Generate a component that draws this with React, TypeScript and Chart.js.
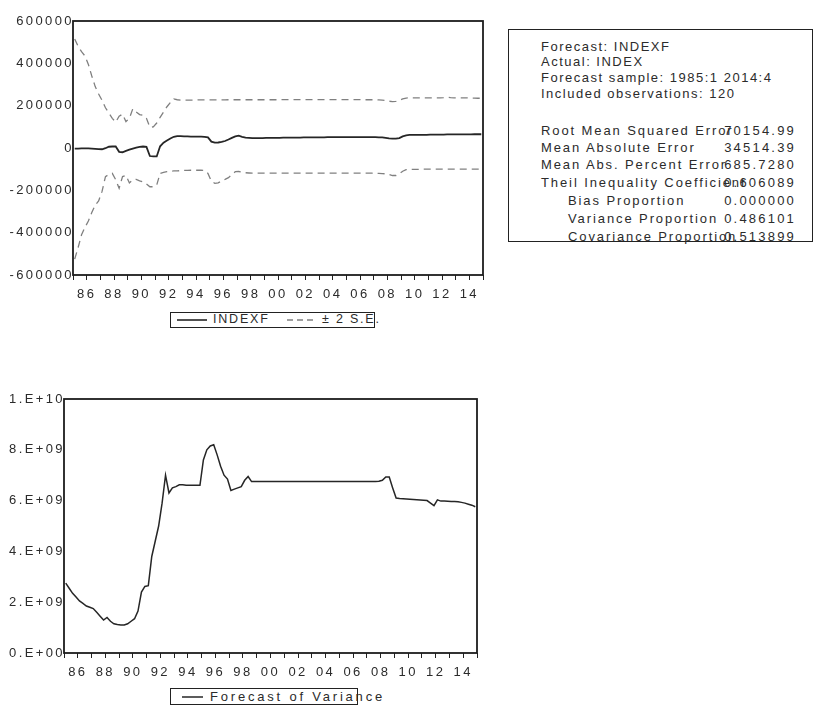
import React, { useEffect, useRef } from 'react';
import { Chart, registerables } from 'chart.js';

Chart.register(...registerables);

// ---------- DATA ----------
const FIRST_YEAR = 1985;
const LAST_YEAR = 2015;
const N_QUARTERS = 120; // 1985:1 .. 2014:4

// INDEXF forecast (units)
const INDEXF = [
  -3000, -3000, -2000, -2000,
  -2000, -3000, -4000, -5000,
  -6000, -1000, 6000, 7000,
  7000, -18000, -20000, -14000,
  -8000, -3000, 2000, 5000,
  7000, 5000, -38000, -40000,
  -40000, 8000, 25000, 35000,
  45000, 53000, 56000, 56000,
  55000, 55000, 54000, 54000,
  54000, 54000, 53000, 50000,
  30000, 25000, 26000, 29000,
  33000, 40000, 48000, 55000,
  58000, 53000, 49000, 48000,
  47000, 47000, 47000, 47000,
  48000, 48000, 48000, 48000,
  48000, 49000, 49000, 49000,
  49000, 49000, 49000, 50000,
  50000, 50000, 50000, 50000,
  50000, 50000, 51000, 51000,
  51000, 51000, 51000, 51000,
  51000, 51000, 51000, 51000,
  51000, 51000, 51000, 51000,
  51000, 50000, 50000, 48000,
  45000, 44000, 44000, 47000,
  55000, 60000, 62000, 62000,
  62000, 62000, 62000, 62000,
  63000, 63000, 63000, 63000,
  63000, 64000, 64000, 64000,
  64000, 64000, 64000, 64000,
  64000, 65000, 65000, 65000,
];

// +2 S.E. band
const UPPER = [
  515000, 480000, 455000, 435000,
  395000, 340000, 290000, 255000,
  225000, 190000, 165000, 140000,
  122000, 150000, 160000, 125000,
  140000, 185000, 170000, 158000,
  155000, 140000, 98000, 100000,
  118000, 145000, 170000, 195000,
  215000, 232000, 228000, 226000,
  226000, 226000, 226000, 226000,
  227000, 227000, 227000, 227000,
  227000, 227000, 227000, 227000,
  227000, 228000, 228000, 228000,
  228000, 228000, 228000, 228000,
  228000, 228000, 228000, 228000,
  228000, 228000, 228000, 228000,
  229000, 229000, 229000, 229000,
  229000, 229000, 229000, 229000,
  229000, 229000, 229000, 229000,
  229000, 229000, 229000, 229000,
  229000, 229000, 229000, 229000,
  229000, 229000, 229000, 229000,
  228000, 228000, 228000, 228000,
  228000, 227000, 226000, 224000,
  221000, 219000, 220000, 225000,
  232000, 236000, 237000, 237000,
  237000, 237000, 237000, 237000,
  237000, 237000, 237000, 237000,
  238000, 240000, 238000, 237000,
  237000, 237000, 237000, 237000,
  236000, 236000, 235000, 235000,
];

// -2 S.E. band
const LOWER = [
  -525000, -470000, -410000, -375000,
  -345000, -305000, -270000, -250000,
  -205000, -135000, -125000, -120000,
  -150000, -190000, -135000, -130000,
  -165000, -150000, -148000, -155000,
  -160000, -170000, -183000, -183000,
  -175000, -120000, -115000, -112000,
  -110000, -108000, -108000, -107000,
  -106000, -106000, -105000, -105000,
  -105000, -105000, -106000, -120000,
  -157000, -167000, -165000, -155000,
  -148000, -140000, -125000, -112000,
  -111000, -114000, -117000, -118000,
  -119000, -119000, -119000, -119000,
  -119000, -119000, -119000, -119000,
  -119000, -119000, -119000, -119000,
  -119000, -119000, -119000, -119000,
  -119000, -119000, -119000, -119000,
  -119000, -119000, -119000, -119000,
  -119000, -119000, -119000, -119000,
  -119000, -119000, -119000, -119000,
  -119000, -119000, -119000, -119000,
  -120000, -120000, -121000, -122000,
  -125000, -130000, -130000, -122000,
  -110000, -102000, -101000, -101000,
  -101000, -101000, -100000, -100000,
  -100000, -100000, -100000, -100000,
  -100000, -100000, -100000, -100000,
  -100000, -100000, -100000, -100000,
  -100000, -100000, -100000, -100000,
];

// Forecast of variance
const VARIANCE = [
  2.75e9, 2.55e9, 2.35e9, 2.2e9,
  2.05e9, 1.95e9, 1.85e9, 1.8e9,
  1.75e9, 1.6e9, 1.45e9, 1.3e9,
  1.4e9, 1.25e9, 1.15e9, 1.12e9,
  1.1e9, 1.1e9, 1.15e9, 1.25e9,
  1.35e9, 1.65e9, 2.4e9, 2.62e9,
  2.65e9, 3.8e9, 4.4e9, 5.0e9,
  5.9e9, 7.0e9, 6.3e9, 6.5e9,
  6.55e9, 6.62e9, 6.62e9, 6.6e9,
  6.6e9, 6.6e9, 6.6e9, 6.6e9,
  7.6e9, 8.0e9, 8.15e9, 8.2e9,
  7.8e9, 7.35e9, 7.0e9, 6.85e9,
  6.4e9, 6.45e9, 6.5e9, 6.55e9,
  6.8e9, 6.95e9, 6.75e9, 6.75e9,
  6.75e9, 6.75e9, 6.75e9, 6.75e9,
  6.75e9, 6.75e9, 6.75e9, 6.75e9,
  6.75e9, 6.75e9, 6.75e9, 6.75e9,
  6.75e9, 6.75e9, 6.75e9, 6.75e9,
  6.75e9, 6.75e9, 6.75e9, 6.75e9,
  6.75e9, 6.75e9, 6.75e9, 6.75e9,
  6.75e9, 6.75e9, 6.75e9, 6.75e9,
  6.75e9, 6.75e9, 6.75e9, 6.75e9,
  6.75e9, 6.75e9, 6.75e9, 6.76e9,
  6.8e9, 6.93e9, 6.93e9, 6.5e9,
  6.1e9, 6.08e9, 6.07e9, 6.06e9,
  6.05e9, 6.04e9, 6.03e9, 6.02e9,
  6.01e9, 6.0e9, 5.9e9, 5.8e9,
  6.03e9, 5.98e9, 5.98e9, 5.97e9,
  5.96e9, 5.96e9, 5.95e9, 5.93e9,
  5.9e9, 5.86e9, 5.82e9, 5.76e9,
];

const TOP_Y_TICKS = { min: -600000, max: 600000, step: 200000 };
const BOTTOM_Y_TICKS = { min: 0, max: 1e10, step: 2e9 };

const STATS_HEADER = [
  'Forecast: INDEXF',
  'Actual: INDEX',
  'Forecast sample: 1985:1 2014:4',
  'Included observations: 120',
];
const STATS_LABELS = [
  'Root Mean Squared Error',
  'Mean Absolute Error',
  'Mean Abs. Percent Error',
  'Theil Inequality Coefficient',
  'Bias Proportion',
  'Variance Proportion',
  'Covariance Proportion',
];
const STATS_VALUES = ['70154.99', '34514.39', '685.7280', '0.606089', '0.000000', '0.486101', '0.513899'];
const STATS_INDENT = [false, false, false, false, true, true, true];

// ---------- HELPERS ----------
const FONT = "'Liberation Sans', Arial, sans-serif";
const INK = '#2b2b2b';

// each quarter is drawn at the centre of its slot on the time axis
const quarterX = (i: number) => FIRST_YEAR + (i + 0.5) / 4;
const toPoints = (arr: number[]) => arr.slice(0, N_QUARTERS).map((y, i) => ({ x: quarterX(i), y }));

const framePlugin = {
  id: 'eviewsFrame',
  beforeUpdate(chart: any) {
    chart.ctx.letterSpacing = '2.4px';
  },
  beforeDraw(chart: any) {
    chart.ctx.letterSpacing = '2.4px';
  },
  afterDraw(chart: any) {
    const { ctx, chartArea: a } = chart;
    ctx.save();
    ctx.strokeStyle = '#1c1c1c';
    ctx.lineWidth = 1.8;
    ctx.strokeRect(a.left, a.top, a.right - a.left, a.bottom - a.top);
    ctx.restore();
  },
};

function xScale() {
  return {
    type: 'linear',
    min: FIRST_YEAR,
    max: LAST_YEAR,
    afterFit(s: any) {
      s.height = 30;
      s.paddingLeft = 0;
      s.paddingRight = 0;
    },
    ticks: {
      stepSize: 1,
      autoSkip: false,
      maxRotation: 0,
      padding: 7,
      color: INK,
      font: { family: FONT, size: 13 },
      callback: (v: number) => (v % 2 === 0 ? String(v).slice(2) : ''),
    },
    grid: { display: true, drawOnChartArea: false, drawTicks: true, tickLength: 5, color: '#222', lineWidth: 1 },
    border: { display: false },
  };
}

function yScale(min: number, max: number, step: number, width: number, fmt: (v: number) => string) {
  return {
    type: 'linear',
    min,
    max,
    afterFit(s: any) {
      s.width = width;
      s.paddingTop = 0;
      s.paddingBottom = 0;
    },
    ticks: {
      stepSize: step,
      padding: -1,
      color: INK,
      font: { family: FONT, size: 13 },
      callback: (v: number) => fmt(v),
    },
    grid: { display: false, drawTicks: false },
    border: { display: false },
  };
}

function useChart(ref: React.RefObject<HTMLCanvasElement>, make: () => any) {
  useEffect(() => {
    if (!ref.current) return;
    const chart = new Chart(ref.current, make());
    return () => chart.destroy();
  }, []);
}

export default function App() {
  const topRef = useRef<HTMLCanvasElement>(null);
  const botRef = useRef<HTMLCanvasElement>(null);

  useChart(topRef, () => ({
    type: 'line',
    data: {
      datasets: [
        { label: '+2 S.E.', data: toPoints(UPPER), borderColor: '#808080', borderWidth: 1.3, borderDash: [7, 5], pointRadius: 0, tension: 0 },
        { label: '-2 S.E.', data: toPoints(LOWER), borderColor: '#808080', borderWidth: 1.3, borderDash: [7, 5], pointRadius: 0, tension: 0 },
        { label: 'INDEXF', data: toPoints(INDEXF), borderColor: '#262626', borderWidth: 1.8, pointRadius: 0, tension: 0 },
      ],
    },
    options: {
      animation: false,
      responsive: false,
      events: [],
      layout: { padding: { left: 0, right: 17, top: 21, bottom: 5 } },
      plugins: { legend: { display: false }, tooltip: { enabled: false } },
      scales: {
        x: xScale(),
        y: yScale(TOP_Y_TICKS.min, TOP_Y_TICKS.max, TOP_Y_TICKS.step, 73, (v) => String(v)),
      },
    },
    plugins: [framePlugin],
  }));

  useChart(botRef, () => ({
    type: 'line',
    data: {
      datasets: [
        { label: 'Forecast of Variance', data: toPoints(VARIANCE), borderColor: '#262626', borderWidth: 1.5, pointRadius: 0, tension: 0 },
      ],
    },
    options: {
      animation: false,
      responsive: false,
      events: [],
      layout: { padding: { left: 0, right: 13, top: 19, bottom: 2 } },
      plugins: { legend: { display: false }, tooltip: { enabled: false } },
      scales: {
        x: xScale(),
        y: yScale(BOTTOM_Y_TICKS.min, BOTTOM_Y_TICKS.max, BOTTOM_Y_TICKS.step, 64, (v) =>
          v === 0 ? '0.E+00' : v >= 1e10 ? '1.E+10' : `${Math.round(v / 1e9)}.E+09`
        ),
      },
    },
    plugins: [framePlugin],
  }));

  const textStyle: React.CSSProperties = {
    position: 'absolute',
    whiteSpace: 'nowrap',
    fontFamily: FONT,
    fontSize: 13,
    letterSpacing: '1.5px',
    color: INK,
    lineHeight: '16px',
  };

  const headerTops = [38, 53, 69, 85];
  const statTops = [122, 139, 156, 174, 192, 210, 228];

  return (
    <div style={{ position: 'absolute', left: 0, top: 0, width: 825, height: 719, background: '#fff', overflow: 'hidden' }}>
      <canvas ref={topRef} width={500} height={310} style={{ position: 'absolute', left: 0, top: 0 }} />
      <canvas ref={botRef} width={490} height={305} style={{ position: 'absolute', left: 0, top: 380 }} />

      {/* top legend */}
      <div style={{ position: 'absolute', left: 170, top: 312, width: 205, height: 16, border: '1.5px solid #222', boxSizing: 'border-box' }} />
      <svg width={40} height={4} style={{ position: 'absolute', left: 177, top: 318 }}>
        <line x1={0} y1={2} x2={30} y2={2} stroke="#262626" strokeWidth={1.6} />
      </svg>
      <div style={{ ...textStyle, left: 213, top: 311, fontSize: 12.5, letterSpacing: '1.8px' }}>INDEXF</div>
      <svg width={40} height={4} style={{ position: 'absolute', left: 287, top: 318 }}>
        <line x1={0} y1={2} x2={30} y2={2} stroke="#808080" strokeWidth={1.3} strokeDasharray="6 4" />
      </svg>
      <div style={{ ...textStyle, left: 322, top: 311, fontSize: 12.5, letterSpacing: '1.8px' }}>± 2 S.E.</div>

      {/* bottom legend */}
      <div style={{ position: 'absolute', left: 170, top: 688, width: 188, height: 17, border: '1.5px solid #222', boxSizing: 'border-box' }} />
      <svg width={30} height={4} style={{ position: 'absolute', left: 182, top: 695 }}>
        <line x1={0} y1={2} x2={21} y2={2} stroke="#262626" strokeWidth={1.5} />
      </svg>
      <div style={{ ...textStyle, left: 210, top: 689, letterSpacing: '2.8px' }}>Forecast of Variance</div>

      {/* statistics box */}
      <div style={{ position: 'absolute', left: 508, top: 29, width: 305, height: 213, border: '1.5px solid #222', boxSizing: 'border-box' }}>
        {STATS_HEADER.map((t, i) => (
          <div key={'h' + i} style={{ ...textStyle, left: 32, top: headerTops[i] - 29 }}>{t}</div>
        ))}
        {STATS_LABELS.map((t, i) => (
          <React.Fragment key={'s' + i}>
            <div style={{ ...textStyle, left: STATS_INDENT[i] ? 59 : 32, top: statTops[i] - 29, letterSpacing: '1.9px' }}>{t}</div>
            <div style={{ ...textStyle, right: 16, top: statTops[i] - 29, letterSpacing: '2.2px' }}>{STATS_VALUES[i]}</div>
          </React.Fragment>
        ))}
      </div>
    </div>
  );
}
